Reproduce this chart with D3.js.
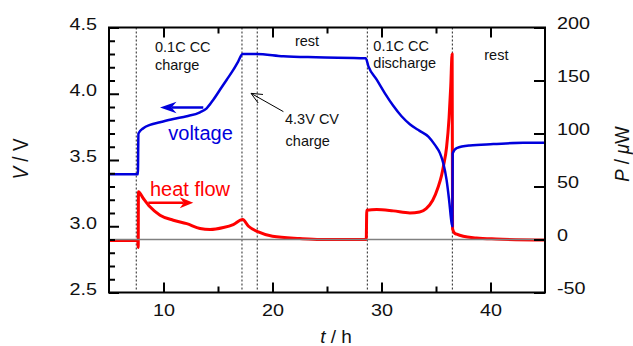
<!DOCTYPE html>
<html>
<head>
<meta charset="utf-8">
<script src="https://cdn.jsdelivr.net/npm/d3@7"></script>
<style>
body { margin: 0; background: #fff; }
svg text { font-family: Arial, "Liberation Sans", sans-serif; fill: #111; }
</style>
</head>
<body>
<script>
// cell voltage during charge / rest / discharge / rest
let voltageTime = [5, 7.65, 7.7, 8.15, 8.76, 9.68, 10.9, 12.13, 13.35, 13.96, 14.57, 15.18, 15.8, 16.4, 16.86, 17.26,
  18.5, 21, 24, 28.55, 28.8, 29.56, 30.3, 31.08, 31.84, 32.6, 33.5, 34.3, 34.9, 35.37, 35.67, 35.97, 36.2, 36.44,
  36.5, 36.53, 36.9, 38.1, 40.26, 43, 45]
let voltageValue = [3.392, 3.392, 3.70, 3.74, 3.765, 3.785, 3.81, 3.83, 3.86, 3.89, 3.955, 4.03, 4.106, 4.18, 4.245, 4.30,
  4.30, 4.283, 4.275, 4.268, 4.207, 4.106, 4.005, 3.909, 3.83, 3.77, 3.72, 3.677, 3.614, 3.55, 3.475, 3.35, 3.2, 3.02,
  3.0, 3.55, 3.59, 3.61, 3.62, 3.63, 3.63]

// heat flow in uW
let heatTime = [5, 7.64, 7.68, 7.7, 8.15, 8.76, 9.68, 10.9, 12.13, 13.35, 14.27, 15.5, 16.4, 17.26, 17.8, 18.7, 20, 22.5,
  24.4, 28.6, 28.65, 29.56, 31.08, 32.6, 33.5, 34.1, 34.7, 35.2, 35.5, 35.7, 35.97, 36.2, 36.35, 36.48, 36.52, 36.7,
  36.9, 37.5, 38.7, 40.5, 45]
let heatValue = [-1, -1, -7.5, 45, 38.7, 30.8, 22.9, 18.2, 15, 10.4, 9.4, 11.3, 14.1, 18.9, 12.5, 7.2, 3.1, 0.9,
  0, 0, 27.6, 28.3, 27, 25.1, 26, 29.2, 37, 49.6, 60, 70, 87, 115, 144, 175, 10, 6,
  5, 3, 1.5, 0.5, -0.5]

let stepTimes = [7.5, 17.2, 18.6, 28.7, 36.5]

let xMajor = [10, 20, 30, 40]
let xMinor = [15, 25, 35]
let vMajor = [2.5, 3.0, 3.5, 4.0, 4.5]
let vMinor = [2.6, 2.7, 2.8, 2.9, 3.1, 3.2, 3.3, 3.4, 3.6, 3.7, 3.8, 3.9, 4.1, 4.2, 4.3, 4.4]
let pMajor = [-50, 0, 50, 100, 150, 200]

// step labels: [text, t, V]
let stepLabels = [
  ["0.1C CC", 9.22, 4.317], ["charge", 9.22, 4.179],
  ["rest", 22.06, 4.364],
  ["4.3V CV", 21.15, 3.768], ["charge", 21.2, 3.606],
  ["0.1C CC", 29.25, 4.323], ["discharge", 29.25, 4.192],
  ["rest", 39.43, 4.251]
]

let width = 633, height = 346
let plotLeft = 109, plotRight = 545, plotTop = 27.5, plotBottom = 292.5

let x = d3.scaleLinear([5, 45], [plotLeft, plotRight])
let yV = d3.scaleLinear([2.5, 4.5], [plotBottom, plotTop])
let yP = d3.scaleLinear([-50, 200], [plotBottom, plotTop])

let svg = d3.select("body").append("svg").attr("width", width).attr("height", height)

// dashed step markers
svg.append("g").selectAll("line")
  .data(stepTimes)
  .join("line")
  .attr("x1", d => x(d)).attr("x2", d => x(d))
  .attr("y1", plotTop).attr("y2", plotBottom - 3)
  .attr("stroke", "#222").attr("stroke-width", 1).attr("stroke-dasharray", "2,2")

// heat flow
let heatData = heatTime.map((t, i) => [t, heatValue[i]])
svg.append("path")
  .datum(heatData)
  .attr("fill", "none").attr("stroke", "#ff0000").attr("stroke-width", 3).attr("stroke-linejoin", "round")
  .attr("d", d3.line().curve(d3.curveMonotoneX).x(d => x(d[0])).y(d => yP(d[1])))

// zero heat flow line
svg.append("line")
  .attr("x1", plotLeft).attr("x2", plotRight)
  .attr("y1", yP(0)).attr("y2", yP(0))
  .attr("stroke", "#808080").attr("stroke-width", 1.5)

// voltage
let voltData = voltageTime.map((t, i) => [t, voltageValue[i]])
svg.append("path")
  .datum(voltData)
  .attr("fill", "none").attr("stroke", "#0000dc").attr("stroke-width", 2.5).attr("stroke-linejoin", "round")
  .attr("d", d3.line().curve(d3.curveMonotoneX).x(d => x(d[0])).y(d => yV(d[1])))

// axes, ticks pointing inward
function noDomain(g) { g.select(".domain").remove(); g.selectAll(".tick line").attr("stroke-width", 2) }

svg.append("g").attr("transform", `translate(0,${plotBottom})`)
  .call(d3.axisBottom(x).tickValues(xMajor).tickSize(-10).tickFormat(d => String(d)))
  .call(noDomain)
  .call(g => g.selectAll("text").attr("y", 12).attr("dy", "0.72em").attr("font-size", 16.5).attr("transform", "scale(1.2,1)"))
svg.append("g").attr("transform", `translate(0,${plotBottom})`)
  .call(d3.axisBottom(x).tickValues(xMinor).tickSize(-6).tickFormat(""))
  .call(noDomain)
svg.append("g").attr("transform", `translate(0,${plotTop})`)
  .call(d3.axisTop(x).tickValues(xMajor).tickSize(-10).tickFormat(""))
  .call(noDomain)
svg.append("g").attr("transform", `translate(0,${plotTop})`)
  .call(d3.axisTop(x).tickValues(xMinor).tickSize(-6).tickFormat(""))
  .call(noDomain)

svg.append("g").attr("transform", `translate(${plotLeft},0)`)
  .call(d3.axisLeft(yV).tickValues(vMajor).tickSize(-10).tickFormat(d => d.toFixed(1)))
  .call(noDomain)
  .call(g => g.selectAll("text").attr("x", -10).attr("y", -3.5).attr("font-size", 16.5).attr("transform", "scale(1.2,1)"))
svg.append("g").attr("transform", `translate(${plotLeft},0)`)
  .call(d3.axisLeft(yV).tickValues(vMinor).tickSize(-6).tickFormat(""))
  .call(noDomain)

svg.append("g").attr("transform", `translate(${plotRight},0)`)
  .call(d3.axisRight(yP).tickValues(pMajor).tickSize(-11).tickFormat(d => String(d)))
  .call(noDomain)
  .call(g => g.selectAll("text").attr("x", 10).attr("y", -4).attr("font-size", 16.5).attr("transform", "scale(1.2,1)"))

// frame
svg.append("rect")
  .attr("x", plotLeft).attr("y", plotTop).attr("width", plotRight - plotLeft).attr("height", plotBottom - plotTop)
  .attr("fill", "none").attr("stroke", "#000").attr("stroke-width", 2)

// axis titles
let xt = svg.append("text").attr("x", 336).attr("y", 343).attr("text-anchor", "middle").attr("font-size", 19)
xt.append("tspan").attr("font-style", "italic").text("t")
xt.append("tspan").text(" / h")

let vt = svg.append("text").attr("transform", "translate(28,159) scale(1.15,1) rotate(-90)")
  .attr("text-anchor", "middle").attr("font-size", 19)
vt.append("tspan").attr("font-style", "italic").text("V")
vt.append("tspan").text(" / V")

let pt = svg.append("text").attr("transform", "translate(628.5,154) scale(1.1,1) rotate(-90)")
  .attr("text-anchor", "middle").attr("font-size", 18.5)
pt.append("tspan").attr("font-style", "italic").text("P")
pt.append("tspan").text(" / ")
pt.append("tspan").attr("font-style", "italic").text("\u03bc")
pt.append("tspan").text("W")

// step labels
svg.append("g").selectAll("text")
  .data(stepLabels)
  .join("text")
  .attr("x", d => x(d[1])).attr("y", d => yV(d[2]))
  .attr("font-size", 14.5)
  .text(d => d[0])

// series labels and arrows
svg.append("text").attr("x", x(10.44)).attr("y", yV(3.651)).attr("font-size", 20).style("fill", "#0000dc").text("voltage")
svg.append("text").attr("x", x(8.76)).attr("y", yP(41)).attr("font-size", 20).style("fill", "#ff0000").text("heat flow")

function arrow(x1, y1, x2, y2, color, len, half, notch, sw) {
  let a = Math.atan2(y2 - y1, x2 - x1)
  let ux = Math.cos(a), uy = Math.sin(a)
  let bx = x2 - ux * len, by = y2 - uy * len
  let nx = x2 - ux * notch, ny = y2 - uy * notch
  svg.append("line").attr("x1", x1).attr("y1", y1).attr("x2", nx).attr("y2", ny)
    .attr("stroke", color).attr("stroke-width", sw)
  svg.append("path")
    .attr("d", `M${x2},${y2}L${bx - uy * half},${by + ux * half}L${nx},${ny}L${bx + uy * half},${by - ux * half}Z`)
    .attr("fill", color)
}
arrow(x(13.65), yV(3.896), x(9.68), yV(3.896), "#0000dc", 16.5, 5.8, 11.5, 2.5)
arrow(x(8.6), yP(34.7), x(12.73), yP(34.7), "#ff0000", 13.5, 5.5, 9.5, 2.5)

// thin open arrow to the CV step
let ax1 = x(21.0), ay1 = yV(3.865), ax2 = x(18.03), ay2 = yV(4.003)
let ang = Math.atan2(ay2 - ay1, ax2 - ax1)
svg.append("line").attr("x1", ax1).attr("y1", ay1).attr("x2", ax2).attr("y2", ay2).attr("stroke", "#000").attr("stroke-width", 1)
svg.append("path")
  .attr("d", [ang - 0.42, ang + 0.42].map(b => `M${ax2},${ay2}L${ax2 - 12 * Math.cos(b)},${ay2 - 12 * Math.sin(b)}`).join(""))
  .attr("fill", "none").attr("stroke", "#000").attr("stroke-width", 1)
</script>
</body>
</html>
